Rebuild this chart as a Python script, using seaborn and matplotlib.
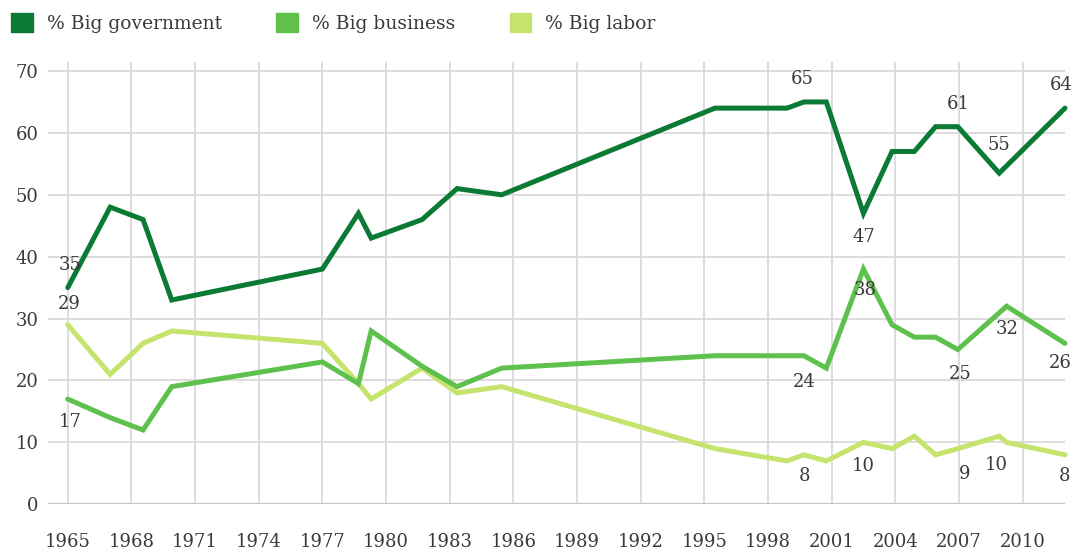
import numpy as np
import pandas as pd
import matplotlib
matplotlib.use("Agg")
import matplotlib.pyplot as plt
from matplotlib.patches import Patch
import seaborn as sns

# ---------------- data ----------------
gov_years = [1965, 1967, 1968.55, 1969.9, 1977, 1978.7, 1979.3, 1981.7, 1983.35, 1985.45,
             1995.5, 1998.9, 1999.7, 2000.75, 2002.5, 2003.85, 2004.9, 2005.9, 2006.95,
             2008.9, 2012]
gov_values = [35, 48, 46, 33, 38, 47, 43, 46, 51, 50,
              64, 64, 65, 65, 47, 57, 57, 61, 61,
              53.5, 64]

bus_years = [1965, 1967, 1968.55, 1969.9, 1977, 1978.7, 1979.3, 1981.7, 1983.35, 1985.45,
             1995.5, 1998.9, 1999.7, 2000.75, 2002.5, 2003.85, 2004.9, 2005.9, 2006.95,
             2009.25, 2012]
bus_values = [17, 14, 12, 19, 23, 19.5, 28, 22.3, 19, 22,
              24, 24, 24, 22, 38, 29, 27, 27, 25,
              32, 26]

lab_years = [1965, 1967, 1968.55, 1969.9, 1977, 1978.7, 1979.3, 1981.7, 1983.35, 1985.45,
             1995.5, 1998.9, 1999.7, 2000.75, 2002.5, 2003.85, 2004.9, 2005.9, 2006.95,
             2008.9, 2009.25, 2012]
lab_values = [29, 21, 26, 28, 26, 19.5, 17, 22, 18, 19,
              9, 7, 8, 7, 10, 9, 11, 8, 9,
              11, 10, 8]

series_names = ["% Big government", "% Big business", "% Big labor"]
colors = ["#0b7a34", "#5fc14d", "#c4e46e"]

x_ticks = list(range(1965, 2011, 3))
y_ticks = [0, 10, 20, 30, 40, 50, 60, 70]

# data labels: (series index, point index, text)
labels = [
    (0, 0, "35"), (0, 12, "65"), (0, 14, "47"), (0, 18, "61"), (0, 19, "55"), (0, 20, "64"),
    (1, 0, "17"), (1, 12, "24"), (1, 14, "38"), (1, 18, "25"), (1, 19, "32"), (1, 20, "26"),
    (2, 0, "29"), (2, 12, "8"), (2, 14, "10"), (2, 18, "9"), (2, 19, "10"), (2, 21, "8"),
]
# offsets in pixels (dx, dy; positive dy = up)
label_offsets = [
    (2, 23), (-2, 23), (0, -24), (0, 23), (0, 28), (-4, 23),
    (2, -23), (0, -26), (2, -21), (2, -24), (0, -23), (-5, -20),
    (2, 21), (0, -21), (0, -24), (7, -25), (-3, -29), (0, -21),
]

# ---------------- frame ----------------
frames = []
for name, xs, ys in zip(series_names, [gov_years, bus_years, lab_years],
                        [gov_values, bus_values, lab_values]):
    frames.append(pd.DataFrame({"year": xs, "value": ys, "series": name}))
df = pd.concat(frames, ignore_index=True)

sns.set_theme(style="white")
plt.rcParams["font.family"] = ["DejaVu Serif"]
text_color = "#3a3a3a"
fs = 13

fig = plt.figure(figsize=(10.76, 5.51), dpi=100)
ax = fig.add_axes([48 / 1076, (551 - 504.3) / 551, (1065 - 48) / 1076, (504.3 - 61.7) / 551])

# draw order: labor, business, government on top
order = [2, 1, 0]
for i in order:
    sub = df[df["series"] == series_names[i]]
    sns.lineplot(data=sub, x="year", y="value", ax=ax, color=colors[i],
                 linewidth=3.6, estimator=None, sort=True, legend=False,
                 solid_joinstyle="miter", clip_on=False, zorder=3 + (2 - i))

ax.set_xlim(1964.07, 2012.0)
ax.set_ylim(0, 71.5)
ax.set_xticks(x_ticks)
ax.set_xticklabels([str(t) for t in x_ticks])
ax.set_yticks(y_ticks)
ax.set_yticklabels([str(t) for t in y_ticks])
ax.set_xlabel("")
ax.set_ylabel("")

ax.grid(True, color="#dadada", linewidth=1.3)
ax.set_axisbelow(True)
for s in ["top", "right", "left", "bottom"]:
    ax.spines[s].set_visible(False)
ax.axhline(0, color="#c4c4c4", linewidth=2.2, zorder=2)

ax.tick_params(axis="x", length=0, pad=21, labelsize=fs, labelcolor=text_color)
ax.tick_params(axis="y", length=0, pad=7, labelsize=fs, labelcolor=text_color)

# data labels
all_x = [gov_years, bus_years, lab_years]
all_y = [gov_values, bus_values, lab_values]
for (si, pi, txt), (dx, dy) in zip(labels, label_offsets):
    ax.annotate(txt, xy=(all_x[si][pi], all_y[si][pi]), xytext=(dx * 0.72, dy * 0.72),
                textcoords="offset points", ha="center", va="center",
                fontsize=fs, color=text_color, zorder=10, annotation_clip=False)

handles = [Patch(facecolor=c, edgecolor=c) for c in colors]
fig.legend(handles, series_names, loc="upper left", bbox_to_anchor=(-2 / 1076, 1.0),
           ncol=3, frameon=False, fontsize=13.5, handlelength=1.15, handleheight=1.15,
           handletextpad=0.75, columnspacing=2.9, labelcolor=text_color, borderaxespad=0.3)

fig.savefig("out.png", dpi=100)
